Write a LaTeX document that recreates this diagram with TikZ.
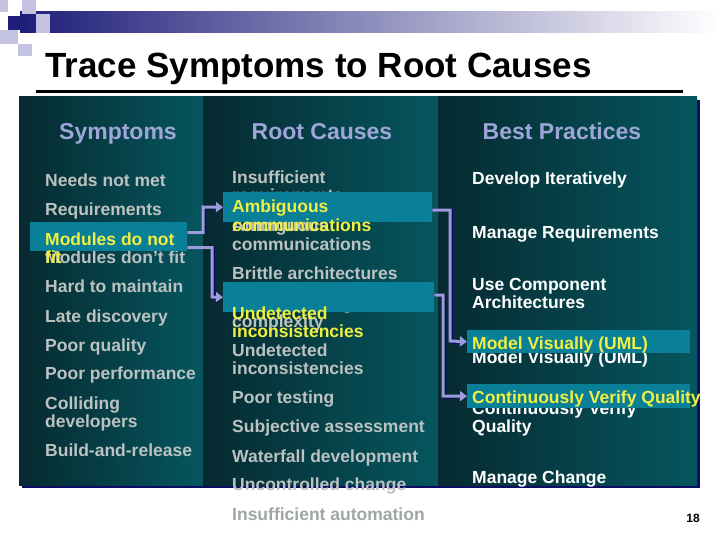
\documentclass[tikz,border=0pt]{standalone}
\usepackage{fontspec}
\setmainfont{Liberation Sans}
\usetikzlibrary{arrows.meta}
\definecolor{navyshade}{HTML}{0C0C66}
\definecolor{paneldark}{HTML}{062A30}
\definecolor{panellight}{HTML}{06565F}
\definecolor{hlcol}{HTML}{0A7F98}
\definecolor{greytxt}{HTML}{BCC2C2}
\definecolor{headcol}{HTML}{9EA6D8}
\definecolor{yeltxt}{HTML}{F0F040}
\definecolor{linkcol}{HTML}{9C9CDA}
\definecolor{lavsq}{HTML}{C4C4E2}
\definecolor{barnavy}{HTML}{1E1E7A}

\tikzset{
  panel/.style={left color=paneldark, right color=panellight, draw=none},
  head/.style={anchor=base, inner sep=0pt, text=headcol, font=\bfseries\fontsize{23}{24}\selectfont},
  sym/.style={anchor=base west, inner sep=0pt, align=left, text=greytxt, font=\bfseries\fontsize{17.5}{18}\selectfont},
  bp/.style={sym, text=white},
  hl/.style={anchor=north west, inner sep=0pt, fill=hlcol},
  hltxt/.style={sym, text=yeltxt},
  link/.style={draw=linkcol, line width=3pt, -{Triangle[length=7pt,width=10pt]}},
  linkshade/.style={draw=navyshade, line width=3pt, -{Triangle[length=7pt,width=10pt]}, shift={(1.5,1.5)}}
}

\begin{document}
\begin{tikzpicture}[x=1pt, y=-1pt]
\useasboundingbox (0,0) rectangle (720,540);
\fill[white] (0,0) rectangle (720,540);

\shade[left color=barnavy, right color=white] (20,12) rectangle (720,33);
\fill[lavsq] (0,0) rectangle (8,12);
\fill[lavsq] (22,0) rectangle (36,14);
\fill[lavsq] (36,14) rectangle (50,33);
\fill[lavsq] (0,30) rectangle (18,44);
\fill[lavsq] (18,44) rectangle (32,56);
\fill[barnavy] (8,16) rectangle (22,30);

\node[anchor=base west, inner sep=0pt, font=\bfseries\fontsize{35}{36}\selectfont] (title) at (45,78) {Trace Symptoms to Root Causes};
\draw[line width=3pt] (36,92) -- (683,92);

\fill[navyshade] (22,100) rectangle (700,488);
\shade[panel] (19,97) rectangle (203,485);
\shade[panel] (203,97) rectangle (438,485);
\shade[panel] (438,97) rectangle (697,485);

\node[head] (symhead) at (118,140) {Symptoms};
\node[head] (rchead) at (322,140) {Root Causes};
\node[head] (bphead) at (562,140) {Best Practices};

\node[sym] (needs) at (45,187) {Needs not met};
\node[sym] (reqs) at (45,215) {Requirements};
\node[sym] (moddont) at (45,263) {Modules don't fit};
\node[sym] (hard) at (45,292) {Hard to maintain};
\node[sym] (late) at (45,322) {Late discovery};
\node[sym] (pqual) at (45,351) {Poor quality};
\node[sym] (pperf) at (45,379) {Poor performance};
\node[sym] (collide) at (45,427) {Colliding\\developers};
\node[sym] (build) at (45,456) {Build-and-release};

\node[sym] (insreq) at (232,202) {Insufficient\\requirements};
\node[sym] (ambig) at (232,250) {Ambiguous\\communications};
\node[sym] (brittle) at (232,279) {Brittle architectures};
\node[sym] (overw) at (232,327) {Overwhelming\\complexity};
\node[sym] (undet) at (232,374) {Undetected\\inconsistencies};
\node[sym] (ptest) at (232,403) {Poor testing};
\node[sym] (subj) at (232,432) {Subjective assessment};
\node[sym] (water) at (232,462) {Waterfall development};
\node[sym] (unctrl) at (232,490) {Uncontrolled change};
\node[sym, text=greytxt!85!black] (insauto) at (232,520) {Insufficient automation};

\node[bp] (deviter) at (472,185) {Develop Iteratively};
\node[bp] (manreq) at (472,238) {Manage Requirements};
\node[bp] (usecomp) at (472,308) {Use Component\\Architectures};
\node[bp] (modvis) at (472,363) {Model Visually (UML)};
\node[bp] (contver) at (472,432) {Continuously Verify\\Quality};
\node[bp] (manchg) at (472,483) {Manage Change};

\node[hl, minimum width=157pt, minimum height=29pt] (modbox) at (30,222) {};
\node[hl, minimum width=209pt, minimum height=30pt] (ambox) at (223,192) {};
\node[hl, minimum width=211pt, minimum height=30pt] (undbox) at (223,282) {};
\node[hl, minimum width=223pt, minimum height=23pt] (modelbox) at (467,330) {};
\node[hl, minimum width=223pt, minimum height=24pt] (cvqbox) at (467,384) {};

\node[hltxt] (modyel) at (45,263) {Modules do not\\fit};
\node[hltxt] (ambyel) at (232,231) {Ambiguous\\communications};
\node[hltxt] (undyel) at (232,337) {Undetected\\inconsistencies};
\node[hltxt] (modvisyel) at (472,349) {Model Visually (UML)};
\node[hltxt] (cvqyel) at (472,403) {Continuously Verify Quality};

\draw[linkshade] ([yshift=4pt]modbox.east) -| (203,207) -- (ambox.west);
\draw[linkshade] ([yshift=-11pt]modbox.east) -| (212,297) -- (undbox.west);
\draw[linkshade] ([yshift=-3pt]ambox.east) -| (450,341) -- (modelbox.west);
\draw[linkshade] ([yshift=2pt]undbox.east) -| (443,396) -- (cvqbox.west);
\draw[link] ([yshift=4pt]modbox.east) -| (203,207) -- (ambox.west);
\draw[link] ([yshift=-11pt]modbox.east) -| (212,297) -- (undbox.west);
\draw[link] ([yshift=-3pt]ambox.east) -| (450,341) -- (modelbox.west);
\draw[link] ([yshift=2pt]undbox.east) -| (443,396) -- (cvqbox.west);

\node[anchor=base east, inner sep=0pt, font=\bfseries\fontsize{12}{12}\selectfont] (pagenum) at (700,522) {18};
\end{tikzpicture}
\end{document}
